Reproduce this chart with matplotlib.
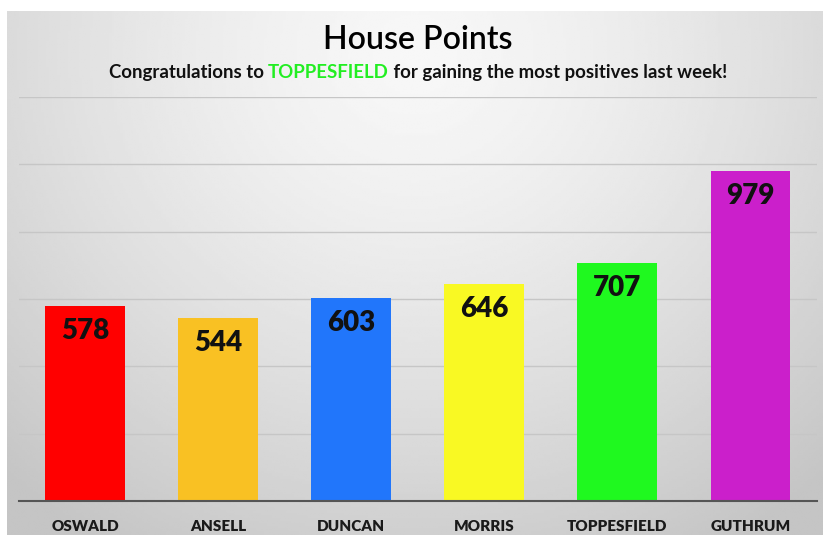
import numpy as np
import matplotlib
matplotlib.use('Agg')
import matplotlib.pyplot as plt

# data
houses = ['OSWALD', 'ANSELL', 'DUNCAN', 'MORRIS', 'TOPPESFIELD', 'GUTHRUM']
points = [578, 544, 603, 646, 707, 979]
colours = ['#ff0000', '#f9c123', '#2176fb', '#f9f923', '#1ff91f', '#cb1fcb']
winner = 'TOPPESFIELD'

W, H = 823, 535
fig = plt.figure(figsize=(W / 100, H / 100), dpi=100)
fig.patch.set_facecolor('white')

# gradient panel behind everything
bg = fig.add_axes([7 / W, 0, 1 - 7 / W, (H - 11) / H])
yy, xx = np.mgrid[0:1:200j, 0:1:300j]
r = np.sqrt(((xx - 0.5) / 0.75) ** 2 + ((yy - 0.08) / 1.1) ** 2)
shade = 0.97 - 0.2 * np.clip(r, 0, 1) ** 1.4
bg.imshow(shade, cmap='gray', vmin=0, vmax=1, aspect='auto', extent=[0, 1, 1, 0])
bg.axis('off')

ax = fig.add_axes([18.5 / W, 34 / H, (817 - 18.5) / W, (501 - 97) / H])
ax.patch.set_alpha(0)
x = np.arange(len(houses))
ax.bar(x, points, width=0.6, color=colours, zorder=2)
ax.set_xlim(-0.5, len(houses) - 0.5)
ax.set_ylim(0, 1200)
ax.set_yticks(np.arange(200, 1201, 200))
ax.yaxis.grid(True, color='#c6c6c6', linewidth=1, zorder=0)
ax.set_axisbelow(True)
for s in ['top', 'right', 'left']:
    ax.spines[s].set_visible(False)
ax.spines['bottom'].set_color('#555555')
ax.spines['bottom'].set_linewidth(1.5)
ax.tick_params(axis='y', length=0, labelleft=False)
ax.tick_params(axis='x', length=0, pad=14)
ax.set_xticks(x)
ax.set_xticklabels(houses)
for lab in ax.get_xticklabels():
    lab.set_fontfamily('Lato')
    lab.set_fontweight('heavy')
    lab.set_fontsize(11)
    lab.set_color('#1a1a1a')

for xi, v in zip(x, points):
    ax.annotate(str(v), (xi, v), xytext=(0, -25), textcoords='offset pixels',
                ha='center', va='center', fontfamily='Lato', fontweight='heavy',
                fontsize=20, color='#111111')

fig.text(418 / W, 1 - 40 / H, 'House Points', ha='center', va='center',
         fontfamily='Lato', fontweight='semibold', fontsize=23, color='black')

# subtitle with the winner in green
parts = [('Congratulations to ', '#111111'), (winner, '#22ee22'),
         (' for gaining the most positives last week!', '#111111')]
fig.canvas.draw()
rend = fig.canvas.get_renderer()
texts = []
for s, c in parts:
    t = fig.text(0, 1 - 72 / H, s, ha='left', va='center', fontfamily='Lato',
                 fontweight='bold', fontsize=13.4, color=c)
    texts.append(t)
widths = [t.get_window_extent(rend).width for t in texts]
xpos = 418 - sum(widths) / 2
for t, w in zip(texts, widths):
    t.set_x(xpos / W)
    xpos += w

fig.savefig('out.png', dpi=100)
